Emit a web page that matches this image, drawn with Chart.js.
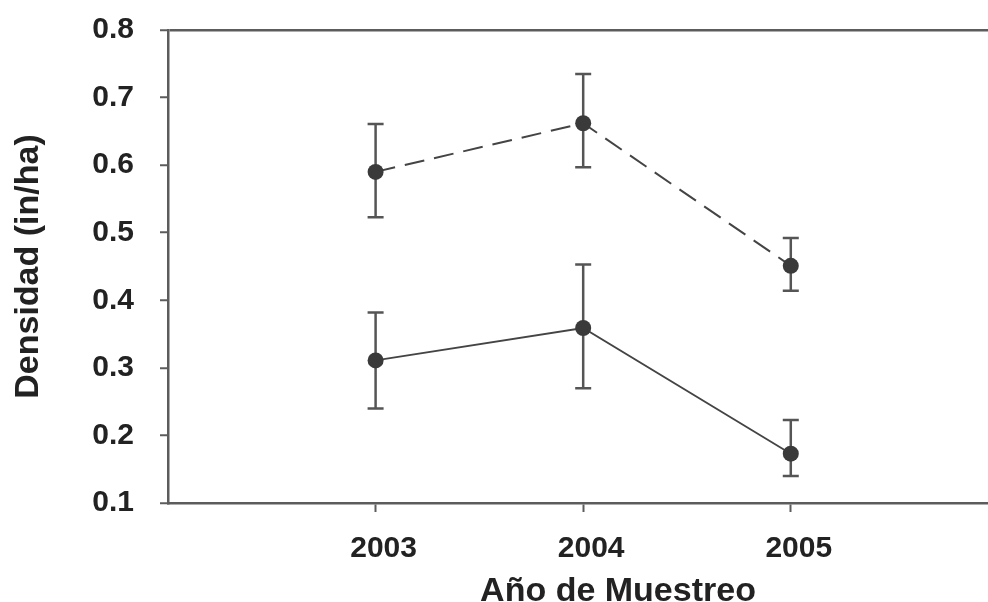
<!DOCTYPE html>
<html>
<head>
<meta charset="utf-8">
<script src="https://cdn.jsdelivr.net/npm/chart.js@4"></script>
<style>
  body { margin: 0; background: #fff; overflow: hidden; }
  canvas { display: block; }
</style>
</head>
<body>
<canvas id="chart" width="996" height="602"></canvas>
<script>
const years = [2003, 2004, 2005];
const yTicks = [0.1, 0.2, 0.3, 0.4, 0.5, 0.6, 0.7, 0.8];

// dashed series
const dashMean = [0.590, 0.662, 0.451];
const dashHi = [0.661, 0.735, 0.492];
const dashLo = [0.523, 0.597, 0.414];

// solid series
const solidMean = [0.311, 0.359, 0.173];
const solidHi = [0.382, 0.453, 0.223];
const solidLo = [0.240, 0.270, 0.140];

const xTitle = "Año de Muestreo";
const yTitle = "Densidad (in/ha)";

const axisColor = "#5c5c5c";
const markColor = "#3a3a3a";
const textColor = "#222";
const fontFamily = "'Liberation Sans', Arial, Helvetica, sans-serif";

const errorBars = {
  id: "errorBars",
  beforeDatasetsDraw(chart) {
    const ctx = chart.ctx;
    const x = chart.scales.x;
    const y = chart.scales.y;
    const sets = [[dashHi, dashLo], [solidHi, solidLo]];
    ctx.save();
    ctx.strokeStyle = "#555";
    ctx.lineWidth = 2.5;
    sets.forEach(([hi, lo]) => {
      years.forEach((yr, i) => {
        const px = x.getPixelForValue(yr);
        const top = y.getPixelForValue(hi[i]);
        const bot = y.getPixelForValue(lo[i]);
        ctx.beginPath();
        ctx.moveTo(px, top);
        ctx.lineTo(px, bot);
        ctx.moveTo(px - 8, top);
        ctx.lineTo(px + 8, top);
        ctx.moveTo(px - 8, bot);
        ctx.lineTo(px + 8, bot);
        ctx.stroke();
      });
    });
    ctx.restore();
  }
};

// x title sits right of the axis centre in the original, so it is drawn here
const bottomTitle = {
  id: "bottomTitle",
  afterDraw(chart) {
    const ctx = chart.ctx;
    ctx.save();
    ctx.fillStyle = textColor;
    ctx.font = "bold 34px " + fontFamily;
    ctx.textAlign = "center";
    ctx.textBaseline = "alphabetic";
    ctx.fillText(xTitle, 618, 601);
    ctx.restore();
  }
};

new Chart(document.getElementById("chart"), {
  type: "line",
  data: {
    datasets: [
      {
        data: years.map((yr, i) => ({ x: yr, y: dashMean[i] })),
        borderColor: "#444",
        borderWidth: 2,
        borderDash: [20, 10],
        pointRadius: 8,
        pointBackgroundColor: markColor,
        pointBorderColor: markColor,
        pointBorderWidth: 0,
      },
      {
        data: years.map((yr, i) => ({ x: yr, y: solidMean[i] })),
        borderColor: "#444",
        borderWidth: 1.8,
        pointRadius: 8,
        pointBackgroundColor: markColor,
        pointBorderColor: markColor,
        pointBorderWidth: 0,
      },
    ],
  },
  options: {
    responsive: false,
    animation: false,
    layout: { padding: { top: 30, right: 0, left: 0, bottom: 0 } },
    plugins: {
      legend: { display: false },
      tooltip: { enabled: false },
    },
    scales: {
      x: {
        type: "linear",
        min: 2002,
        max: 2005.95,
        afterBuildTicks: (scale) => {
          scale.ticks = years.map((v) => ({ value: v }));
        },
        afterFit: (scale) => {
          scale.height = 99;
          scale.paddingLeft = 0;
          scale.paddingRight = 0;
        },
        border: { color: axisColor, width: 2.5 },
        grid: {
          drawOnChartArea: false,
          tickLength: 9,
          tickColor: axisColor,
          tickWidth: 2,
        },
        ticks: {
          padding: 19,
          labelOffset: 8,
          color: textColor,
          font: { family: fontFamily, size: 30, weight: "bold" },
          callback: (v) => String(v),
        },
      },
      y: {
        min: 0.1,
        max: 0.8,
        afterBuildTicks: (scale) => {
          scale.ticks = yTicks.map((v) => ({ value: v }));
        },
        afterFit: (scale) => {
          scale.width = 168;
          scale.paddingTop = 0;
          scale.paddingBottom = 0;
        },
        border: { color: axisColor, width: 2.5 },
        grid: {
          lineWidth: 2.5,
          color: (c) => (c.tick && Math.abs(c.tick.value - 0.8) < 1e-6 ? axisColor : "rgba(0,0,0,0)"),
          tickLength: 8,
          tickColor: axisColor,
          tickWidth: 2,
        },
        ticks: {
          padding: 26,
          color: textColor,
          font: { family: fontFamily, size: 30, weight: "bold" },
          callback: (v) => Number(v).toFixed(1),
        },
        title: {
          display: true,
          text: yTitle,
          color: textColor,
          padding: { top: 8, bottom: 0 },
          font: { family: fontFamily, size: 34, weight: "bold" },
        },
      },
    },
  },
  plugins: [errorBars, bottomTitle],
});
</script>
</body>
</html>
